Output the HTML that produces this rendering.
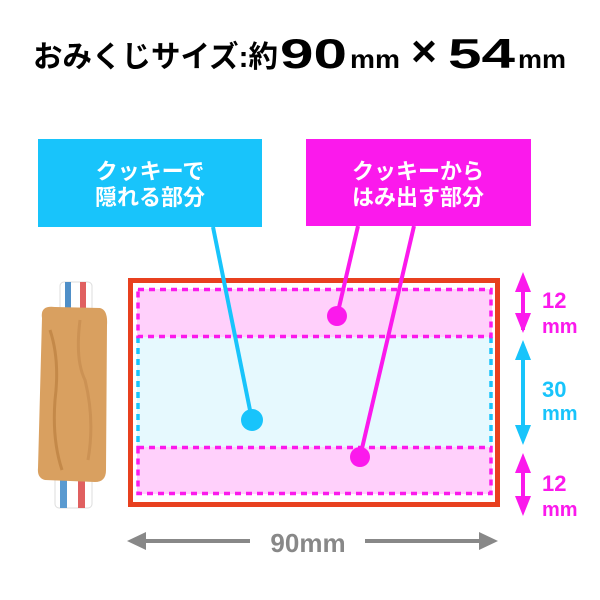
<!DOCTYPE html>
<html><head><meta charset="utf-8"><style>
html,body{margin:0;padding:0;background:#fff;}
svg{display:block}
text{font-family:"Liberation Sans","Noto Sans CJK JP",sans-serif;font-weight:bold}
</style></head><body>
<svg width="600" height="600" viewBox="0 0 600 600" xmlns="http://www.w3.org/2000/svg">
<!-- title -->
<text x="33" y="67" font-size="30" textLength="245" lengthAdjust="spacingAndGlyphs">おみくじサイズ:約</text>
<text x="280" y="68" font-size="42" textLength="67" lengthAdjust="spacingAndGlyphs">90</text>
<text x="350" y="68" font-size="26" textLength="50" lengthAdjust="spacingAndGlyphs">mm</text>
<text x="424" y="66" font-size="44" text-anchor="middle">×</text>
<text x="448" y="68" font-size="42" textLength="67" lengthAdjust="spacingAndGlyphs">54</text>
<text x="518" y="68" font-size="26" textLength="48" lengthAdjust="spacingAndGlyphs">mm</text>

<!-- boxes -->
<rect x="38" y="139" width="224" height="88" fill="#18c4fb"/>
<text x="150" y="179" font-size="22" fill="#fff" text-anchor="middle">クッキーで</text>
<text x="150" y="205" font-size="22" fill="#fff" text-anchor="middle">隠れる部分</text>
<rect x="306" y="139" width="225" height="87" fill="#fb19ec"/>
<text x="418" y="179" font-size="22" fill="#fff" text-anchor="middle">クッキーから</text>
<text x="418" y="205" font-size="22" fill="#fff" text-anchor="middle">はみ出す部分</text>

<!-- cookie -->
<rect x="60" y="282" width="32" height="30" rx="4" fill="#fff" stroke="#ddd"/>
<rect x="65" y="282" width="6" height="30" fill="#4f8fc8"/>
<rect x="80" y="282" width="6" height="30" fill="#e06060"/>
<rect x="55" y="476" width="37" height="32" rx="4" fill="#fff" stroke="#ddd"/>
<rect x="60" y="476" width="7" height="32" fill="#5a9ad0"/>
<rect x="78" y="476" width="7" height="32" fill="#e06060"/>
<path d="M42 318 Q40 305 55 307 L100 308 Q108 310 107 325 L106 470 Q106 482 95 482 L45 480 Q37 478 38 468 Z" fill="#d9a060"/>
<path d="M50 330 Q60 360 55 400 Q52 440 62 470" stroke="#b57a3a" stroke-width="3" fill="none" opacity=".6"/>
<path d="M80 320 Q75 360 85 380 Q95 420 88 460" stroke="#c08448" stroke-width="3" fill="none" opacity=".5"/>

<!-- main rect -->
<rect x="130.5" y="280.5" width="367" height="224" fill="#fff" stroke="#e8401f" stroke-width="5"/>
<rect x="137" y="289" width="355" height="48" fill="#ffd0fb"/>
<rect x="137" y="337" width="355" height="110" fill="#e6f9fe"/>
<rect x="137" y="447" width="355" height="47" fill="#ffd0fb"/>
<g fill="none" stroke-width="3.5" stroke-dasharray="6 5">
<path d="M138 337 V447 M491 337 V447" stroke="#18c4fb"/>
<rect x="138" y="289.5" width="353" height="47" stroke="#fb19ec"/>
<rect x="138" y="447.5" width="353" height="46" stroke="#fb19ec"/>
</g>

<!-- leaders -->
<line x1="213" y1="227" x2="252" y2="420" stroke="#18c4fb" stroke-width="4"/>
<circle cx="252" cy="420" r="11" fill="#18c4fb"/>
<line x1="358" y1="226" x2="337" y2="316" stroke="#fb19ec" stroke-width="4"/>
<circle cx="337" cy="316" r="10" fill="#fb19ec"/>
<line x1="414" y1="226" x2="360" y2="457" stroke="#fb19ec" stroke-width="4"/>
<circle cx="360" cy="457" r="10" fill="#fb19ec"/>

<!-- right dims -->
<g fill="#fb19ec">
<rect x="521" y="280" width="4" height="50"/>
<polygon points="523,272 515,292 531,292"/><polygon points="523,333 515,313 531,313"/>
<rect x="521" y="460" width="4" height="50"/>
<polygon points="523,453 515,473 531,473"/><polygon points="523,516 515,496 531,496"/>
</g>
<g fill="#18c4fb">
<rect x="521" y="350" width="4" height="85"/>
<polygon points="523,340 515,360 531,360"/><polygon points="523,445 515,425 531,425"/>
</g>
<text x="542" y="308" font-size="22" fill="#fb19ec">12</text>
<text x="542" y="333" font-size="20" fill="#fb19ec">mm</text>
<text x="542" y="397" font-size="22" fill="#18c4fb">30</text>
<text x="542" y="420" font-size="20" fill="#18c4fb">mm</text>
<text x="542" y="491" font-size="22" fill="#fb19ec">12</text>
<text x="542" y="516" font-size="20" fill="#fb19ec">mm</text>

<!-- bottom dim -->
<g fill="#888">
<rect x="140" y="539" width="110" height="4"/>
<polygon points="127,541 146,532 146,550"/>
<rect x="365" y="539" width="120" height="4"/>
<polygon points="498,541 479,532 479,550"/>
</g>
<text x="308" y="552" font-size="26" fill="#888" text-anchor="middle">90mm</text>
</svg>
</body></html>
